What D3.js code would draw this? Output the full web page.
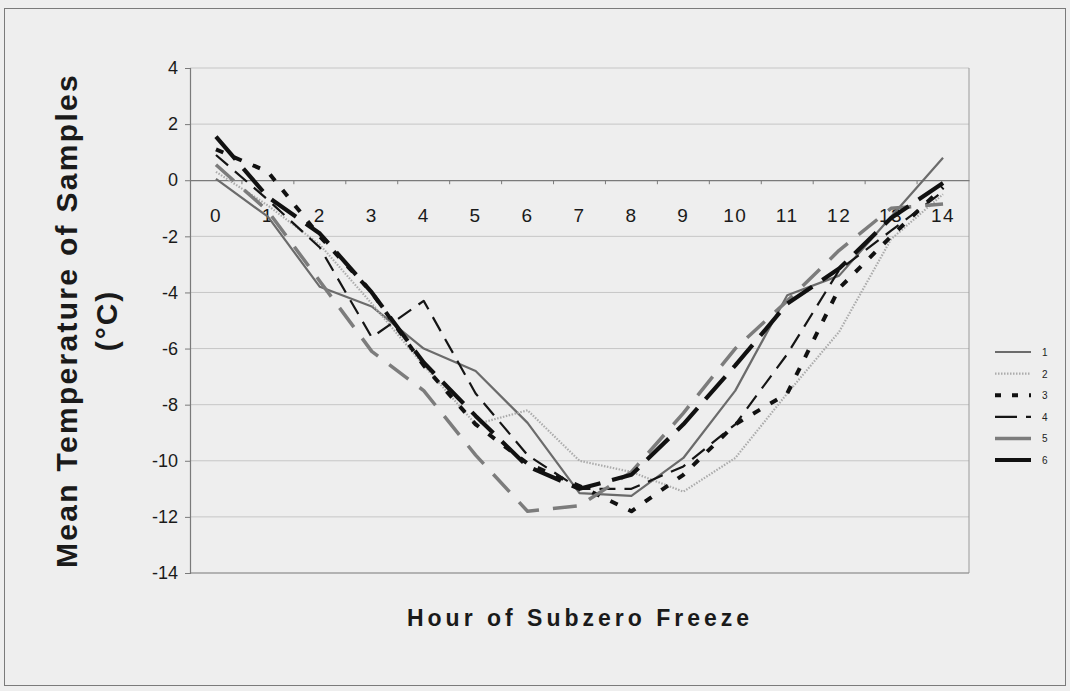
<!DOCTYPE html>
<html>
<head>
<meta charset="utf-8">
<script src="https://cdn.jsdelivr.net/npm/d3@7"></script>
<style>
  html, body { margin: 0; padding: 0; background: #eeeeee; }
  svg { display: block; }
  text { font-family: Arial, "Liberation Sans", sans-serif; }
</style>
</head>
<body>
<svg id="chart" width="1070" height="691"></svg>
<script>
// ---- data ----
const hours = ["0","1","2","3","4","5","6","7","8","9","10","11","12","13","14"];
const yTicks = [-14,-12,-10,-8,-6,-4,-2,0,2,4];
const seriesNames = ["1","2","3","4","5","6"];
const s1 = [0.05,-1.3,-3.8,-4.5,-6.0,-6.8,-8.65,-11.15,-11.25,-9.9,-7.5,-4.1,-3.4,-1.3,0.8];
const s2 = [0.3,-0.9,-2.3,-4.4,-6.6,-8.7,-8.2,-10.0,-10.4,-11.1,-9.9,-7.6,-5.4,-2.1,-0.5];
const s3 = [1.1,0.3,-2.0,-4.0,-6.6,-8.7,-10.1,-10.9,-11.8,-10.5,-8.7,-7.6,-3.85,-2.0,-0.25];
const s4 = [0.9,-0.7,-2.4,-5.6,-4.3,-7.6,-9.8,-11.0,-11.0,-10.2,-8.7,-6.2,-3.2,-1.8,-0.4];
const s5 = [0.55,-1.1,-3.6,-6.1,-7.5,-9.8,-11.8,-11.6,-10.4,-8.3,-6.0,-4.3,-2.5,-1.0,-0.85];
const s6 = [1.55,-0.6,-1.9,-4.0,-6.5,-8.4,-10.2,-11.0,-10.5,-8.7,-6.6,-4.4,-3.15,-1.35,-0.1];
const seriesValues = [s1,s2,s3,s4,s5,s6];

// ---- styles ----
const styles = [
  {color:"#6b6b6b", width:2.2, dash:null},
  {color:"#ababab", width:2.2, dash:"1.5,1.5"},
  {color:"#111111", width:4,   dash:"8,12"},
  {color:"#151515", width:2.2, dash:"16,9"},
  {color:"#7c7c7c", width:3.5, dash:"24,14"},
  {color:"#111111", width:4.2, dash:"30,12"}
];

const svg = d3.select("#chart");
const L = 190, R = 969, T = 68, B = 573;

// outer border
svg.append("rect").attr("x",4.5).attr("y",8.5).attr("width",1061).attr("height",677)
  .attr("fill","#eeeeee").attr("stroke","#7a7a7a").attr("stroke-width",1);

const x = d3.scaleBand().domain(hours).range([L, R]).paddingInner(0).paddingOuter(0);
const xc = d => x(d) + x.bandwidth()/2;
const y = d3.scaleLinear().domain([-14, 4]).range([B, T]);

// gridlines
svg.append("g").selectAll("line").data(yTicks.filter(v => v !== 0)).join("line")
  .attr("x1", L).attr("x2", R).attr("y1", d => y(d)).attr("y2", d => y(d))
  .attr("stroke", "#c6c6c6").attr("stroke-width", 1);

// right border
svg.append("line").attr("x1",R).attr("x2",R).attr("y1",T).attr("y2",B)
  .attr("stroke","#9a9a9a").attr("stroke-width",1);
// bottom border
svg.append("line").attr("x1",L).attr("x2",R).attr("y1",B).attr("y2",B)
  .attr("stroke","#8a8a8a").attr("stroke-width",1.2);

// y axis
const yAxis = svg.append("g").attr("transform", `translate(${L},0)`)
  .call(d3.axisLeft(y).tickValues(yTicks).tickSize(5).tickPadding(7).tickFormat(d => String(d)));
yAxis.select(".domain").attr("stroke","#7a7a7a").attr("stroke-width",1.2);
yAxis.selectAll(".tick line").attr("stroke","#7a7a7a");
yAxis.selectAll("text").attr("font-size", 18).attr("fill","#1a1a1a");

// x axis at y = 0
const xAxis = svg.append("g").attr("transform", `translate(0,${y(0)})`)
  .call(d3.axisBottom(x).tickSize(0).tickPadding(28));
xAxis.select(".domain").attr("stroke","#7a7a7a").attr("stroke-width",1.2);
xAxis.selectAll("text").attr("font-size", 19).attr("fill","#1a1a1a").attr("letter-spacing", 1.5);
// category boundary ticks
svg.append("g").selectAll("line").data(hours.slice(1)).join("line")
  .attr("x1", d => x(d)).attr("x2", d => x(d))
  .attr("y1", y(0)).attr("y2", y(0) + 4)
  .attr("stroke", "#7a7a7a").attr("stroke-width", 1);

// lines
const line = d3.line().x((d,i) => xc(hours[i])).y(d => y(d));
seriesValues.forEach((vals, k) => {
  const st = styles[k];
  svg.append("path").datum(vals)
    .attr("d", line)
    .attr("fill","none")
    .attr("stroke", st.color)
    .attr("stroke-width", st.width)
    .attr("stroke-dasharray", st.dash)
    .attr("stroke-linejoin","round");
});

// legend
const lg = svg.append("g");
const legY = d3.scalePoint().domain(seriesNames).range([352, 460]);
seriesNames.forEach((nm, k) => {
  const st = styles[k];
  lg.append("line").attr("x1", 995).attr("x2", 1031)
    .attr("y1", legY(nm)).attr("y2", legY(nm))
    .attr("stroke", st.color).attr("stroke-width", st.width)
    .attr("stroke-dasharray", k === 2 ? "6,11" : (k === 3 ? "22,9" : (k === 4 || k === 5 ? null : st.dash)));
  lg.append("text").attr("x", 1042).attr("y", legY(nm) + 4)
    .attr("font-size", 10).attr("fill","#222").text(nm);
});

// axis titles
svg.append("text")
  .attr("transform", `translate(66,${(T+B)/2}) rotate(-90)`)
  .attr("text-anchor","middle").attr("dominant-baseline","central")
  .attr("font-size", 30).attr("font-weight","bold").attr("letter-spacing", 2.3)
  .attr("fill","#1a1a1a").text("Mean Temperature of Samples");
svg.append("text")
  .attr("transform", `translate(106,${(T+B)/2}) rotate(-90)`)
  .attr("text-anchor","middle").attr("dominant-baseline","central")
  .attr("font-size", 30).attr("font-weight","bold").attr("letter-spacing", 2)
  .attr("fill","#1a1a1a").text("(°C)");
svg.append("text")
  .attr("x", 580).attr("y", 626)
  .attr("text-anchor","middle")
  .attr("font-size", 23).attr("font-weight","bold").attr("letter-spacing", 4)
  .attr("fill","#1a1a1a").text("Hour of Subzero Freeze");
</script>
</body>
</html>
